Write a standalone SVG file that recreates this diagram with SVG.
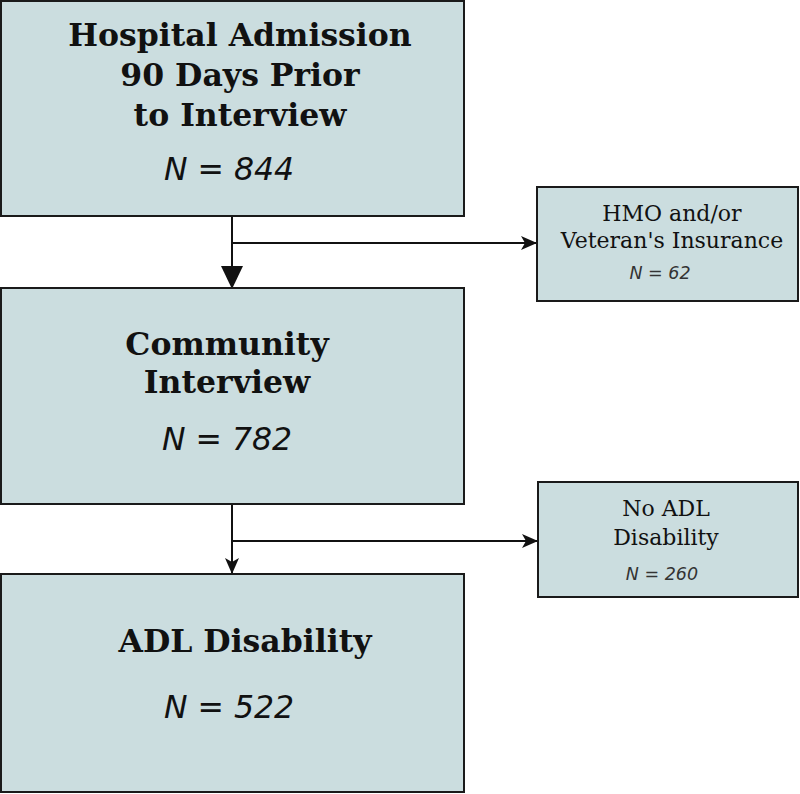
<svg xmlns="http://www.w3.org/2000/svg" width="800" height="794" viewBox="0 0 800 794">
<style>
.box{fill:#cbdddf;stroke:#1a1a1a;stroke-width:2}
.hd{font-family:"DejaVu Serif",serif;font-weight:bold;font-size:31.5px;fill:#111;text-anchor:middle}
.n{font-family:"DejaVu Sans",sans-serif;font-style:italic;font-size:31.5px;fill:#111;text-anchor:middle}
.sm{font-family:"DejaVu Serif",serif;font-size:22px;fill:#111;text-anchor:middle}
.sn{font-family:"DejaVu Sans",sans-serif;font-style:italic;font-size:17.5px;fill:#333;text-anchor:middle}
.ln{stroke:#111;stroke-width:2;fill:none}
</style>
<defs>
<marker id="stl" markerWidth="16" markerHeight="14" refX="15" refY="7" orient="auto" markerUnits="userSpaceOnUse" viewBox="0 0 16 14">
<path d="M0,0 L16,7 L0,14 L4,7 Z" fill="#111"/>
</marker>
</defs>
<g id="connectors">
<path class="ln" d="M232,216 V266"/>
<path d="M221,266 L243,266 L232,289 Z" fill="#111"/>
<path class="ln" d="M232,243 H536" marker-end="url(#stl)"/>
<path class="ln" d="M232,504 V573" marker-end="url(#stl)"/>
<path class="ln" d="M232,541 H537" marker-end="url(#stl)"/>
</g>
<g id="hospital">
<rect class="box" x="1" y="1" width="463" height="215"/>
<text class="hd" x="240" y="46">Hospital Admission</text>
<text class="hd" x="240" y="86">90 Days Prior</text>
<text class="hd" x="240" y="126">to Interview</text>
<text class="n" x="229" y="180">N = 844</text>
</g>
<g id="hmo">
<rect class="box" x="537" y="187" width="261" height="114"/>
<text class="sm" x="672" y="221">HMO and/or</text>
<text class="sm" x="672" y="248">Veteran's Insurance</text>
<text class="sn" x="660" y="279">N = 62</text>
</g>
<g id="community">
<rect class="box" x="1" y="288" width="463" height="216"/>
<text class="hd" x="227" y="355">Community</text>
<text class="hd" x="227" y="393">Interview</text>
<text class="n" x="227" y="450">N = 782</text>
</g>
<g id="noadl">
<rect class="box" x="538" y="482" width="260" height="115"/>
<text class="sm" x="666" y="516">No ADL</text>
<text class="sm" x="666" y="545">Disability</text>
<text class="sn" x="662" y="580">N = 260</text>
</g>
<g id="adl">
<rect class="box" x="1" y="574" width="463" height="218"/>
<text class="hd" x="245" y="652">ADL Disability</text>
<text class="n" x="229" y="718">N = 522</text>
</g>
</svg>
